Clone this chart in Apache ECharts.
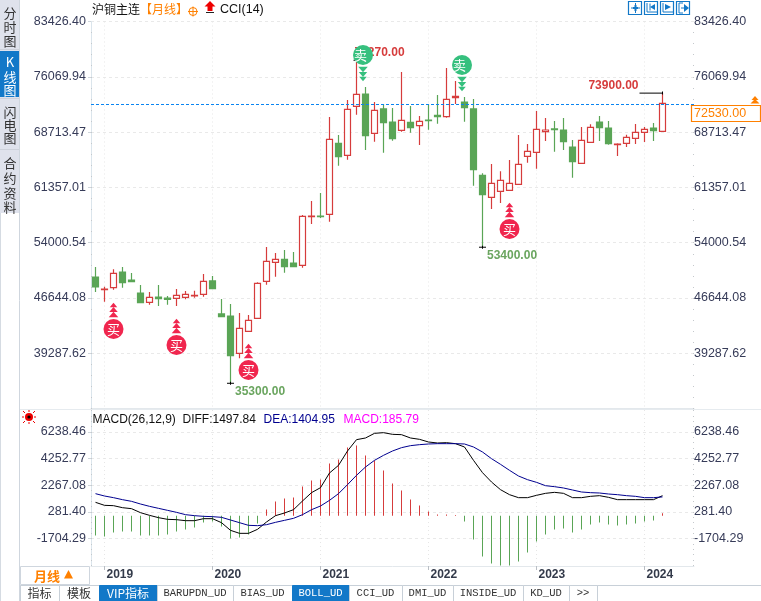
<!DOCTYPE html>
<html><head><meta charset="utf-8">
<style>html,body{margin:0;padding:0;background:#fff}#c{width:761px;height:601px}</style>
<script src="https://cdn.jsdelivr.net/npm/echarts@6/dist/echarts.min.js"></script>
</head><body><div id="c"></div>
<script>
// ---------- data (monthly, 2018-12 .. 2024-03) ----------
const firstYear = 2018, firstMonth = 12;
// [open, close, low, high]
const candles = [
[49440,48110,47440,50770],[47750,47840,46160,48150],[48020,49930,47750,50460],[50100,48680,48020,50770],
[49040,48820,48730,49970],[47310,46020,46020,48370],[46070,46730,45760,47440],[46780,46560,45580,48370],
[46640,46470,45760,46910],[46600,47000,45580,47840],[46730,47130,46470,47580],[46910,47000,46690,47620],
[47130,48860,46820,49840],[48910,47890,47890,49570],[44520,44160,44160,46510],[44250,38970,35300,45850],
[39280,42610,38620,44650],[42210,43670,42210,44380],[43940,48600,43940,48730],[48860,51520,48420,53430],
[51390,51790,49480,52630],[51790,50810,50010,53030],[51300,50810,50810,52760],[50990,57510,50670,57690],
[57460,57550,56490,59550],[57550,57460,57280,60610],[57770,67750,56800,70720],[67220,65450,64250,68330],
[65620,71740,65050,72980],[72140,73740,71030,78270],[73780,68240,66330,74710],[68550,71610,67440,72720],
[71790,69970,65980,72410],[70060,67840,67570,71920],[68950,70280,68770,76710],[70010,69300,68640,72190],
[69570,70150,67000,70860],[70320,70230,69040,72410],[70940,70770,69840,73650],[70770,73070,70630,77240],
[73290,73470,72450,75510],[72720,71960,70100,73380],[71790,63720,61590,73120],[62960,60390,53400,63230],
[60040,61900,58480,64470],[60830,62300,59280,63500],[60970,61900,60970,65000],[61770,64430,61770,68330],
[65490,66160,64650,67130],[66020,69080,63850,71520],[68770,68990,67530,70590],[69130,69040,66110,70190],
[68990,67440,66330,70590],[66730,64780,62650,67660],[64560,67620,64560,69390],[67350,69350,67350,69750],
[70060,69300,67530,70860],[69260,67180,67040,70190],[67040,67130,65530,67220],[67220,68020,66730,68370],
[67890,68680,67130,69790],[68680,69080,67400,69390],[69260,68900,67530,69920],[68820,72530,68820,73900]];
const diff = [1001,778,753,604,530,232,33,-140,-264,-289,-364,-364,-215,-215,-513,-1084,-1307,-1307,-1009,-463,
9,207,455,1101,1721,2093,3186,3756,4824,5668,5792,6139,6189,6065,6040,5792,5692,5494,5419,5444,5370,5122,4129,
3210,2515,1945,1572,1349,1349,1523,1672,1746,1672,1349,1349,1448,1498,1374,1200,1200,1200,1200,1200,1497.84];
const dea = [1647,1473,1349,1200,1076,877,703,555,406,257,83,9,-41,-66,-115,-314,-513,-711,-736,-662,-488,-339,
-190,83,455,728,1150,1647,2317,3012,3632,4129,4501,4824,5072,5221,5295,5345,5370,5370,5370,5345,5122,4749,4253,
3831,3384,2962,2689,2491,2242,2168,2069,1920,1771,1721,1696,1622,1572,1498,1448,1349,1349,1404.95];
const macd = [-1464,-1539,-1241,-1167,-1167,-1464,-1464,-1464,-1390,-1167,-1018,-869,-496,-422,-794,-1688,-1613,
-1390,-571,472,1067,1291,1365,2184,2631,2705,3897,4195,5088,5237,4492,4120,3376,2408,1886,1216,769,323,100,100,
60,-422,-1762,-3028,-3549,-3698,-3698,-3400,-2730,-1911,-1390,-1018,-943,-1241,-1018,-645,-496,-645,-720,-645,
-571,-422,-347,185.79];
const priceTicks = [83426.40,76069.94,68713.47,61357.01,54000.54,46644.08,39287.62];
const macdTicks = [6238.46,4252.77,2267.08,281.40,-1704.29];
const lastPrice = 72530;
const priceLine = 72400;
const buySignals = [[2,42520],[9,40390],[17,37070],[46,55820]];
const sellSignals = [[30,78970],[41,77640]];
const hiLowMarks = [[29,78270],[15,35300],[43,53400],[63,73900]];
const legendValues = {diff:'1497.84', dea:'1404.95', macd:'185.79'};
const tabs = ['指标','模板','VIP指标','BARUPDN_UD','BIAS_UD','BOLL_UD','CCI_UD','DMI_UD','INSIDE_UD','KD_UD','>>'];
const sideTabs = ['分时图','K线图','闪电图','合约资料'];
// --------------------------------------------------------

const UI = '"Liberation Sans","DejaVu Sans",sans-serif';
const CJK = '"Noto Sans CJK SC",sans-serif';
const RED = '#d63c3c', GREEN = '#5aa556', AXC = '#363b58';
const BUY = '#f0264e', SELL = '#36c07e', PL = '#0a84f0';

const cats = [];
{let y=firstYear,m=firstMonth;
 for(let i=0;i<candles.length+3;i++){cats.push(y+'-'+String(m).padStart(2,'0'));m++;if(m>12){m=1;y++;}}}
const isJan = (i)=> cats[i].endsWith('-01') && i<candles.length;

function subdiv(ticks){ // five-fold minor ticks
  const step=ticks[0]-ticks[1], out=[];
  for(let k=-5;k<(ticks.length+1)*5;k++) out.push(ticks[0]-k*step/5);
  return out;
}
const yMain={min:31931.16,max:83426.40}, yMacd={min:-3739,max:7876.6};
function tickAxis(g,ticks,ext,pos){
  return {type:'value',gridIndex:g,position:pos,min:ext.min,max:ext.max,scale:true,
    axisLine:{show:pos==='left',onZero:false,lineStyle:{color:'#dbe5ec'}},
    axisTick:{show:pos==='left',length:3,customValues:ticks,lineStyle:{color:'#cfd6dc'}},
    splitLine:{show:pos==='left',lineStyle:{color:'#e9e9e9',type:[3,3]}},
    axisLabel:{show:true,customValues:ticks,color:AXC,fontFamily:UI,fontSize:12.5,margin:pos==='left'?5:0,
      showMinLabel:true,showMaxLabel:true,hideOverlap:false,formatter:v=>v.toFixed(2)}};
}
function minorAxis(g,ticks,ext,pos){
  const vals=subdiv(ticks).filter(v=>v>ext.min&&v<ext.max);
  return {type:'value',gridIndex:g,position:pos,min:ext.min,max:ext.max,scale:true,
    axisLine:{show:false},splitLine:{show:false},axisLabel:{show:false},
    axisTick:{show:true,inside:true,length:1,customValues:vals,lineStyle:{color:'#c4c8cc'}}};
}
function xAx(g,labels){
  return {type:'category',gridIndex:g,data:cats,boundaryGap:true,
    axisLine:{show:true,onZero:false,lineStyle:{color:'#e3e8ec'}},
    axisTick:{show:labels,alignWithLabel:true,interval:(i)=>isJan(i),length:4,lineStyle:{color:'#b9bec4'}},
    splitLine:{show:true,alignWithLabel:true,interval:(i)=>isJan(i),lineStyle:{color:'#e6e6e6',type:[1,3]}},
    axisLabel:{show:labels,interval:(i)=>isJan(i),formatter:v=>v.slice(0,4),align:'left',padding:[0,0,0,2],margin:3,
      color:'#333a4a',fontFamily:UI,fontSize:12,fontWeight:'bold'}};
}

const series=[];
series.push({type:'candlestick',name:'K',xAxisIndex:0,yAxisIndex:0,z:2,barWidth:7,data:candles,
  itemStyle:{color:'#fff',color0:GREEN,borderColor:RED,borderColor0:GREEN,borderWidth:1.2},
  markLine:{silent:true,symbol:'none',animation:false,label:{show:false},z:4,
    itemStyle:{color:PL},lineStyle:{color:PL,type:[3,2],width:1,opacity:1},
    data:[{yAxis:priceLine,lineStyle:{color:PL,type:[3,2],width:1},itemStyle:{color:PL}}]}});

// hi/low annotations
const markStyle=[
 {c:RED,pos:'right',off:[-1,-8],sz:[2,1],so:[-2,0]},
 {c:'#6aa55f',pos:'right',off:[1,8],sz:[7,1],so:[0,0]},
 {c:'#6aa55f',pos:'right',off:[1,8],sz:[7,1],so:[0,0]},
 {c:RED,pos:'left',off:[-1,-7],sz:[23,1],so:[-11.5,0]}];
series.push({type:'scatter',xAxisIndex:0,yAxisIndex:0,z:3,silent:true,
  data:hiLowMarks.map((d,i)=>({value:d,symbol:'rect',symbolSize:markStyle[i].sz,symbolOffset:markStyle[i].so,
    itemStyle:{color:'#000',opacity:1},
    label:{show:true,position:markStyle[i].pos,distance:0,offset:markStyle[i].off,color:markStyle[i].c,
      fontFamily:UI,fontSize:12,fontWeight:'bold',formatter:d[1].toFixed(2)}}))});
// small vertical stems of low/high crosses
series.push({type:'scatter',xAxisIndex:0,yAxisIndex:0,z:3,silent:true,symbol:'rect',symbolSize:[1,3],
  itemStyle:{color:'#000',opacity:1},data:hiLowMarks.slice(1)});

// signals
[[buySignals,BUY,0,[[-24,4.5,3.5],[-19.5,5.5,4],[-14.5,6.5,4.5]],'买',[0,0]],
 [sellSignals,SELL,180,[[24,4.5,3.5],[19.5,5.5,4],[14.5,6.5,4.5]],'卖',[-2.5,0]]].forEach(([d,col,rot,tri,txt,off])=>{
  tri.forEach(([dy,w,h])=>series.push({type:'scatter',xAxisIndex:0,yAxisIndex:0,z:5,silent:true,data:d,
    symbol:'triangle',symbolRotate:rot,symbolSize:[w+3,h+1],symbolOffset:[off[0],dy],itemStyle:{color:col,opacity:1}}));
  series.push({type:'scatter',xAxisIndex:0,yAxisIndex:0,z:5,silent:true,data:d,symbol:'circle',symbolSize:20,
    symbolOffset:off,itemStyle:{color:col,opacity:1},
    label:{show:true,position:'inside',offset:off,formatter:txt,color:'#fff',fontFamily:CJK,fontSize:13}});
});

// MACD panel
series.push({type:'bar',xAxisIndex:1,yAxisIndex:4,barWidth:1,silent:true,z:2,
  data:macd.map(v=>({value:v,itemStyle:{color:v>=0?RED:GREEN}}))});
series.push({type:'line',xAxisIndex:1,yAxisIndex:4,data:diff,showSymbol:false,z:3,silent:true,
  lineStyle:{color:'#000',width:1}});
series.push({type:'line',xAxisIndex:1,yAxisIndex:4,data:dea,showSymbol:false,z:4,silent:true,
  lineStyle:{color:'#00008f',width:1}});

// ---------- chrome ----------
const gr=[];
const T=(x,y,s,o={})=>gr.push({type:'text',x,y,z:20,silent:true,style:{text:s,fill:o.c||'#111',font:(o.w||'normal')+' '+(o.s||12)+'px '+(o.f||UI),
   textAlign:o.a||'left',textVerticalAlign:'middle'}});
const R=(x,y,w,h,fill,stroke,lw)=>gr.push({type:'rect',z:19,silent:true,shape:{x,y,width:w,height:h},style:{fill:fill||'none',stroke:stroke||'none',lineWidth:lw||1}});
const L=(x1,y1,x2,y2,c,lw)=>gr.push({type:'line',z:19,silent:true,shape:{x1,y1,x2,y2},style:{stroke:c,lineWidth:lw||1}});
const P=(pts,c)=>gr.push({type:'polygon',z:20,silent:true,shape:{points:pts},style:{fill:c}});

// sidebar
R(0,0,19.5,213,'#dfe2ec');
L(19.5,0,19.5,601,'#cfd6de');L(0.5,213,0.5,601,'#d5dbe2');
R(0,51,19,46,'#1278c8');
L(0,49.5,19,49.5,'#cdd1da');L(0,149.5,19,149.5,'#cdd1da');L(0,98.5,19,98.5,'#cdd1da');
const sideY=[[13,27,41],[62,77,90],[112,125,138],[163,178,193,207]];
sideTabs.forEach((s,i)=>[...s].forEach((ch,j)=>T(10,sideY[i][j],ch,{a:'center',s:13,f:CJK,c:i===1?'#fff':'#333'})));

// title row
T(92,9.5,'沪铜主连',{f:CJK,c:'#111'});
T(140,9.5,'【月线】',{f:CJK,c:'#ff8000'});
gr.push({type:'circle',z:20,silent:true,shape:{cx:193,cy:11.5,r:4},style:{fill:'none',stroke:'#ff8000'}});
L(188,11.5,198,11.5,'#ff8000');L(193,6.5,193,16.5,'#ff8000');
P([[210,1],[215.5,6.5],[212.5,6.5],[212.5,11],[207.5,11],[207.5,6.5],[204.5,6.5]],'#ee0000');
L(206,12.5,214,12.5,'#222');
T(220,9.5,'CCI(14)',{c:'#111',s:12.5});

// toolbar
[628,644,660,676].forEach(x=>R(x+.5,1.5,13,13,'#fff','#1278c8',1.2));
const B='#1278c8';
P([[633,7],[638,7],[638,9],[633,9]],B);P([[634.5,5],[636.5,5],[636.5,11],[634.5,11]],B);
L(631,8,640,8,B);L(635.5,3,635.5,13,B);
L(647,3,647,12,B);L(647,12,657,12,B);P([[655,4],[655,10],[650,7]],B);L(650,3.5,650,10.5,B);
L(663,3,663,12,B);L(663,12,673,12,B);P([[665,4],[665,10],[671,7]],B);
L(679,3,679,13,B);L(679,3,683,3,B);L(679,13,683,13,B);P([[684,4],[689,8],[684,12]],B);L(681,8,685,8,B);

// last price
R(691.5,105.5,69,16,'#fff','#ff8000',1.2);
T(694,113.5,lastPrice.toFixed(2),{c:'#ff8000',s:12.5});
P([[755,96],[758.5,100],[751.5,100]],'#ff8000');P([[755,99],[759.5,103.5],[750.5,103.5]],'#ff8000');

// panel separators
L(20,409.5,761,409.5,'#e6ebef');
// MACD legend
T(92.5,420,'MACD(26,12,9)  DIFF:'+legendValues.diff,{c:'#111'});
T(263.5,420,'DEA:'+legendValues.dea,{c:'#00008f'});
T(343.5,420,'MACD:'+legendValues.macd,{c:'#ff00ff'});
// sun icon
gr.push({type:'circle',z:20,silent:true,shape:{cx:29,cy:417,r:4},style:{fill:'#e00',stroke:'none'}});
gr.push({type:'circle',z:21,silent:true,shape:{cx:29,cy:417,r:1.6},style:{fill:'#000',stroke:'none'}});
[[23,411,25,413],[29,410,29,412],[35,411,33,413],[22,417,24,417],[34,417,36,417],[23,423,25,421],[29,422,29,424],[35,423,33,421]]
  .forEach(a=>L(a[0],a[1],a[2],a[3],'#e00'));

// period selector
R(20.5,566.5,69,18,'#fff','#cfd6de');
T(34,576,'月线',{f:CJK,c:'#ff8000',w:'bold',s:13});
P([[68.5,570],[73,578.5],[64,578.5]],'#ff8000');

// bottom tabs
const tabX=[20,59,99,157,233,292,349,402,453,523,569,597];
L(20,585.5,761,585.5,'#c8d0d8');
tabs.forEach((s,i)=>{
  const blue=(i===2||i===5);
  R(tabX[i]+.5,585.5,tabX[i+1]-tabX[i],16,blue?'#1278c8':'#fff',blue?'#1278c8':'#c8d0d8');
  const latin=/^[A-Z_>]+$/.test(s);
  T((tabX[i]+tabX[i+1])/2,593.5,s,{a:'center',c:blue?'#fff':'#333',f:latin?'"Liberation Mono",monospace':CJK,s:latin?10.5:12});
});

const chart=echarts.init(document.getElementById('c'),null,{renderer:'canvas',width:761,height:601});
chart.setOption({animation:false,backgroundColor:'#fff',tooltip:{show:false},
  grid:[{left:91,width:603,top:21.5,height:387.1,containLabel:false},{left:91,width:603,top:410,height:156,containLabel:false}],
  xAxis:[xAx(0,false),xAx(1,true)],
  yAxis:[tickAxis(0,priceTicks,yMain,'left'),tickAxis(0,priceTicks,yMain,'right'),minorAxis(0,priceTicks,yMain,'left'),minorAxis(0,priceTicks,yMain,'right'),
         tickAxis(1,macdTicks,yMacd,'left'),tickAxis(1,macdTicks,yMacd,'right'),minorAxis(1,macdTicks,yMacd,'left'),minorAxis(1,macdTicks,yMacd,'right')],
  series,graphic:{elements:gr}});
</script></body></html>
